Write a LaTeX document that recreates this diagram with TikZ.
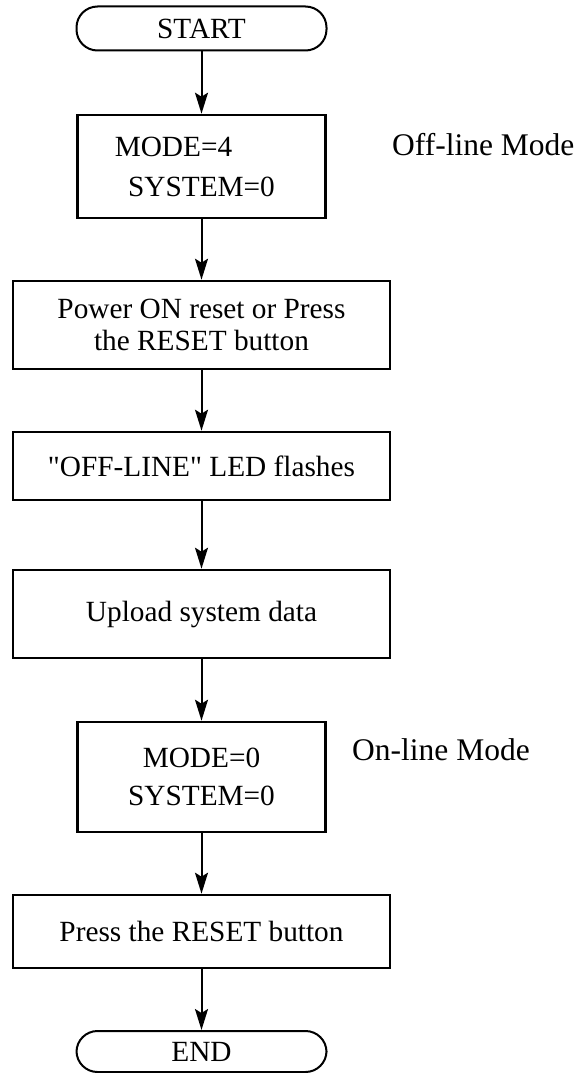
\documentclass[tikz,border=0pt]{standalone}
\usepackage{fontspec}
\setmainfont{Liberation Serif}[Ligatures=TeXOff]
\usetikzlibrary{arrows.meta}
\begin{document}
\begin{tikzpicture}[x=1pt, y=-1pt,
  font=\fontsize{29.3}{32}\selectfont,
  term/.style={draw, line width=2pt, rounded corners=21pt,
             minimum width=250pt, minimum height=44pt, inner sep=0pt},
  stepbox/.style={draw, line width=2.6pt, minimum width=377pt,
             inner sep=0pt, align=center},
  setbox/.style={stepbox, minimum width=248pt},
  modelbl/.style={anchor=west, inner sep=0pt, font=\fontsize{31.5}{34}\selectfont},
  flow/.style={line width=2pt, -{Stealth[length=21pt, width=13pt, inset=4pt]}}
]
\useasboundingbox (0,0) rectangle (579,1073);
\node[term] (start) at (201.5, 28.5) {START};
\node[setbox, minimum height=103pt] (mode4) at (201.5, 166.5)
  {MODE=4\hspace*{56pt}\\[8pt]SYSTEM=0};
\node[modelbl] (offline) at (392, 145) {Off-line Mode};
\node[stepbox, minimum height=88pt] (reset) at (201.5, 325)
  {Power ON reset or Press\\the RESET button};
\node[stepbox, minimum height=68pt] (led) at (201.5, 466) {"OFF-LINE" LED flashes};
\node[stepbox, minimum height=88pt] (upload) at (201.5, 614) {Upload system data};
\node[setbox, minimum height=110pt] (mode0) at (201.5, 777)
  {MODE=0\\[6pt]SYSTEM=0};
\node[modelbl] (online) at (352, 750) {On-line Mode};
\node[stepbox, minimum height=73pt] (press) at (201.5, 931.5) {Press the RESET button};
\node[term, minimum height=41pt] (finish) at (201.5, 1051.5) {END};
\foreach \a/\b in {start/mode4, mode4/reset, reset/led, led/upload,
                   upload/mode0, mode0/press, press/finish}
  \draw[flow] (\a.south) -- (\b.north);
\end{tikzpicture}
\end{document}
